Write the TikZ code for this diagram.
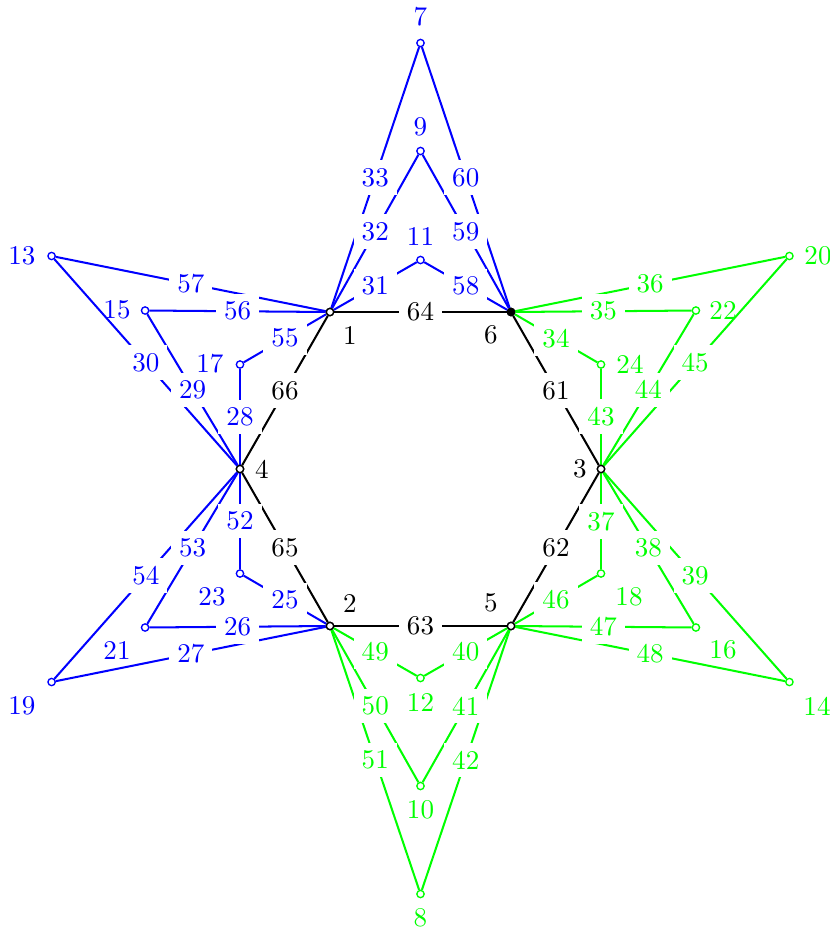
\documentclass[tikz,border=0pt]{standalone}
\begin{document}
\begin{tikzpicture}[x=0.37pt,y=-0.37pt,line width=0.75pt,
  vert/.style={circle,draw,fill=white,inner sep=0pt,minimum size=2.7pt,line width=0.5pt},
  hexv/.style={vert,draw=black},
  rootv/.style={vert,draw=black,fill=black},
  bv/.style={vert,draw=blue},
  gv/.style={vert,draw=green},
  vlab/.style={inner sep=0pt,anchor=center},
  elab/.style={fill=white,inner xsep=3pt,inner ysep=2.9pt}]
\useasboundingbox (0,0) rectangle (830,932);
% hexagon vertices
\node[hexv] (v1) at (330,312) {};
\node[rootv] (v6) at (511,312) {};
\node[hexv] (v3) at (601,469) {};
\node[hexv] (v5) at (511,626) {};
\node[hexv] (v2) at (330,626) {};
\node[hexv] (v4) at (240,469) {};
% blue vertices
\node[bv] (v7) at (420.5,43) {};
\node[bv] (v9) at (420.5,151) {};
\node[bv] (v11) at (420.5,260) {};
\node[bv] (v13) at (51.6,256) {};
\node[bv] (v15) at (145.1,310.5) {};
\node[bv] (v17) at (240,364.5) {};
\node[bv] (v19) at (51.6,682) {};
\node[bv] (v21) at (145.1,627.5) {};
\node[bv] (v23) at (240,573.5) {};
% green vertices
\node[gv] (v8) at (420.5,894) {};
\node[gv] (v10) at (420.5,786) {};
\node[gv] (v12) at (420.5,678) {};
\node[gv] (v20) at (789.4,256) {};
\node[gv] (v22) at (695.9,310.5) {};
\node[gv] (v24) at (601,364.5) {};
\node[gv] (v14) at (789.4,682) {};
\node[gv] (v16) at (695.9,627.5) {};
\node[gv] (v18) at (601,573.5) {};
% edges
\foreach \a/\b/\c in {1/7/blue,6/7/blue,1/9/blue,6/9/blue,1/11/blue,6/11/blue,
  1/13/blue,1/15/blue,1/17/blue,4/13/blue,4/15/blue,4/17/blue,
  4/19/blue,4/21/blue,4/23/blue,2/19/blue,2/21/blue,2/23/blue,
  6/20/green,6/22/green,6/24/green,3/20/green,3/22/green,3/24/green,
  3/18/green,3/16/green,3/14/green,5/18/green,5/16/green,5/14/green,
  2/12/green,2/10/green,2/8/green,5/12/green,5/10/green,5/8/green,
  1/6/black,6/3/black,3/5/black,5/2/black,2/4/black,4/1/black}
  \draw[\c] (v\a) -- (v\b);
\foreach \a/\b/\l/\c in {1/7/33/blue,6/7/60/blue,1/9/32/blue,6/9/59/blue,1/11/31/blue,6/11/58/blue,
  1/13/57/blue,1/15/56/blue,1/17/55/blue,4/13/30/blue,4/15/29/blue,4/17/28/blue,
  4/19/54/blue,4/21/53/blue,4/23/52/blue,2/19/27/blue,2/21/26/blue,2/23/25/blue,
  6/20/36/green,6/22/35/green,6/24/34/green,3/20/45/green,3/22/44/green,3/24/43/green,
  3/18/37/green,3/16/38/green,3/14/39/green,5/18/46/green,5/16/47/green,5/14/48/green,
  2/12/49/green,2/10/50/green,2/8/51/green,5/12/40/green,5/10/41/green,5/8/42/green,
  1/6/64/black,6/3/61/black,3/5/62/black,5/2/63/black,2/4/65/black,4/1/66/black}
  \path (v\a) -- node[elab,text=\c] (e\l) {\l} (v\b);
% redraw vertices on top
\foreach \v in {1,2,3,4,5} \node[hexv] at (v\v) {};
\node[rootv] at (v6) {};
% vertex labels
\node[vlab] (l1) at (350,335) {1};
\node[vlab] (l6) at (491,335) {6};
\node[vlab] (l3) at (580,469) {3};
\node[vlab] (l4) at (262,469) {4};
\node[vlab] (l2) at (350,603) {2};
\node[vlab] (l5) at (491,603) {5};
\node[vlab,blue] (l7) at (420.5,17) {7};
\node[vlab,blue] (l9) at (420.5,127) {9};
\node[vlab,blue] (l11) at (420.5,236) {11};
\node[vlab,blue] (l13) at (22,256) {13};
\node[vlab,blue] (l15) at (117,310) {15};
\node[vlab,blue] (l17) at (210,364) {17};
\node[vlab,blue] (l19) at (22,706) {19};
\node[vlab,blue] (l21) at (117,650) {21};
\node[vlab,blue] (l23) at (212,597) {23};
\node[vlab,green] (l8) at (420.5,918) {8};
\node[vlab,green] (l10) at (420.5,810) {10};
\node[vlab,green] (l12) at (420.5,702) {12};
\node[vlab,green] (l20) at (818,256) {20};
\node[vlab,green] (l22) at (723,310) {22};
\node[vlab,green] (l24) at (630,364) {24};
\node[vlab,green] (l14) at (817,706) {14};
\node[vlab,green] (l16) at (723,650) {16};
\node[vlab,green] (l18) at (629,597) {18};
\end{tikzpicture}
\end{document}
